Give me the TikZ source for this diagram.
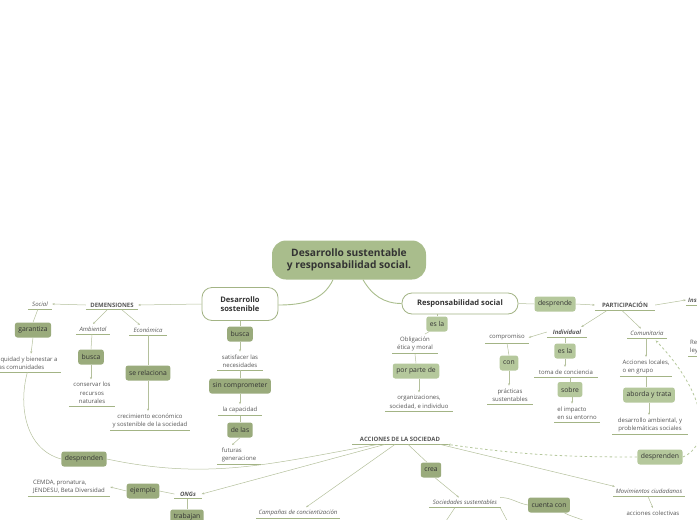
\documentclass[tikz,border=0pt]{standalone}
\usepackage{fontspec}
\setmainfont{Open Sans}
\usetikzlibrary{arrows.meta}
\definecolor{gdark}{HTML}{9AAB7C}
\definecolor{glight}{HTML}{B5C89C}
\definecolor{gmid}{HTML}{A9BD8C}
\definecolor{gline}{HTML}{A3B485}
\definecolor{cline}{HTML}{B4C09C}
\definecolor{txt}{HTML}{333333}
\definecolor{ltxt}{HTML}{555555}
\tikzset{
  gbox/.style={rounded corners=2.5pt, fill=gdark, text=txt, font=\fontsize{6.8}{8}\selectfont, inner xsep=3.5pt, minimum height=15pt},
  lbox/.style={gbox, fill=glight},
  obox/.style={rounded corners=10pt, draw=gline, line width=0.8pt, fill=white, text=txt, font=\bfseries\fontsize{7.6}{9.5}\selectfont, align=center},
  tx/.style={text=ltxt, font=\fontsize{6}{8.5}\selectfont, align=center, inner xsep=2pt, inner ysep=2.5pt},
  ul/.style={append after command={(\tikzlastnode.south west) edge[uline] (\tikzlastnode.south east)}},
  uline/.style={draw=gline, line width=1pt},
  conn/.style={draw=cline, line width=0.5pt},
  arr/.style={conn, -{Stealth[length=2.5pt,width=2pt]}},
  dconn/.style={draw=glight, line width=0.8pt, dash pattern=on 2.5pt off 2.5pt, -{Stealth[length=3pt,width=2.5pt]}},
  thick conn/.style={draw=gmid, line width=0.9pt},
  it/.style={font=\itshape\fontsize{6}{8.5}\selectfont},
  bf/.style={font=\bfseries\fontsize{6}{8.5}\selectfont},
  bi/.style={font=\bfseries\itshape\fontsize{6}{8.5}\selectfont},
}
\begin{document}
\begin{tikzpicture}[x=1pt,y=-1pt]
\useasboundingbox (0,0) rectangle (697,520);
% main nodes
\node[rounded corners=14pt, fill=gmid, text=txt, font=\bfseries\fontsize{10.2}{12.5}\selectfont, align=center, minimum width=154pt, minimum height=39pt] (root) at (349,260) {Desarrollo sustentable\\y responsabilidad social.};
\node[obox, minimum width=76pt, minimum height=33pt] (ds) at (240,304) {Desarrollo\\sostenible};
\node[obox, minimum width=116pt, minimum height=21pt] (rs) at (460,303.5) {Responsabilidad social};
\draw[thick conn] ([xshift=-16pt]root.south) to[out=-115,in=0] ([yshift=-1pt]ds.east);
\draw[thick conn] ([xshift=14pt]root.south) to[out=-60,in=180] (rs.west);

% DIMENSIONES branch
\node[tx, ul, bf, minimum width=52pt] (dim) at (112,305) {DEMENSIONES};
\node[tx, ul, it, minimum width=24pt] (social) at (40,304) {Social};
\node[gbox] (gar) at (33,330) {garantiza};
\node[tx, ul, align=left, anchor=west, inner xsep=3pt] (eq) at (-6,363) {Equidad y bienestar a\\las comunidades};
\node[tx, ul, it, minimum width=34pt] (amb) at (93,329) {Ambiental};
\node[tx, ul, it, minimum width=37pt] (eco) at (148,330) {Económica};
\node[gbox] (busca1) at (91,357) {busca};
\node[tx, ul, minimum width=46pt] (cons) at (92,393) {conservar los\\recursos\\naturales};
\node[gbox] (serel) at (148,373) {se relaciona};
\node[tx, ul, minimum width=79pt] (crec) at (150,421) {crecimiento económico\\y sostenible de la sociedad};
\node[gbox] (desprL) at (84,459) {desprenden};

\draw[arr] (ds.west) -- (dim.east);
\draw[arr] (dim.west) -- (social.east);
\draw[conn] ([xshift=-2pt]social.south) -- (gar.north);
\draw[arr] (gar.south) -- ([xshift=-2pt]gar.south |- eq.north);
\draw[arr] ([xshift=-5pt]dim.south) -- (amb.north);
\draw[arr] ([xshift=10pt]dim.south) -- ([xshift=-8pt]eco.north);
\draw[conn] ([xshift=-1pt]amb.south) -- (busca1.north);
\draw[arr] (busca1.south) -- (busca1.south |- cons.north);
\draw[conn] (eco.south) -- (serel.north);
\draw[arr] (serel.south) -- (serel.south |- crec.north);

% desarrollo sostenible chain
\node[gbox] (busca2) at (240,334) {busca};
\node[tx, ul, minimum width=45pt] (satis) at (240,361) {satisfacer las\\necesidades};
\node[gbox] (sincomp) at (240,386) {sin comprometer};
\node[tx, ul, minimum width=44pt] (capac) at (240,410) {la capacidad};
\node[gbox] (delas) at (240,430) {de las};
\node[tx, ul, align=left, minimum width=44pt] (fut) at (239,455) {futuras\\generacione};
\draw[conn] (ds.south) -- (busca2.north);
\draw[arr] (busca2.south) -- (satis.north);
\draw[conn] (satis.south) -- (sincomp.north);
\draw[arr] (sincomp.south) -- (capac.north);
\draw[conn] (capac.south) -- (delas.north);
\draw[arr] (delas.south) -- ([xshift=-8pt]delas.south |- fut.north);

% ACCIONES
\node[tx, ul, bf, minimum width=95pt] (acc) at (400,439.5) {ACCIONES DE LA SOCIEDAD};
\node[tx, ul, bi, minimum width=27pt] (ongs) at (188,494) {ONGs};
\node[gbox] (ejemplo) at (143,491) {ejemplo};
\node[tx, ul, align=left, minimum width=82pt] (cemda) at (69,487) {CEMDA, pronatura,\\JENDESU, Beta Diversidad};
\node[gbox] (trab) at (187,517) {trabajan};
\node[tx, ul, it, minimum width=82pt] (camp) at (298,513) {Campañas de concientización};
\node[gbox] (crea) at (431,470) {crea};
\node[tx, ul, it, minimum width=72pt] (socs) at (465,502.5) {Sociedades sustentables};
\node[gbox] (cuenta) at (549,505) {cuenta con};
\node[tx, ul, it, minimum width=72pt] (mov) at (649,491.5) {Movimientos ciudadanos};
\node[tx] (acol) at (653,513) {acciones colectivas};
\coordinate (off1) at (440,530);
\coordinate (off2) at (512,530);
\coordinate (off3) at (592,530);

\draw[conn] (eq.south) to[out=-105,in=165] (desprL.west);
\draw[conn] (desprL.east) to[out=-12,in=190] ([xshift=-22pt]acc.south);
\draw[arr] ([xshift=-15pt]acc.south) -- (ongs.east);
\draw[conn] (ongs.west) -- (ejemplo.east);
\draw[arr] (ejemplo.west) -- (cemda.east);
\draw[conn] ([xshift=-1pt]ongs.south) -- (trab.north);
\draw[arr] ([xshift=-5pt]acc.south) -- ([xshift=8pt]camp.north);
\draw[conn] ([xshift=8pt]acc.south) -- ([xshift=-4pt]crea.north);
\draw[arr] ([xshift=4pt]crea.south) -- ([xshift=-6pt]socs.north);
\draw[arr] ([xshift=40pt]acc.south) -- ([xshift=2pt]mov.north west);
\draw[arr] ([xshift=-1pt]mov.south) -- (acol.north);
\draw[conn] ([xshift=-1pt]socs.north east) to[out=0,in=170] (cuenta.west);
\draw[conn] ([xshift=-10pt]socs.south) -- (off1);
\draw[conn] ([xshift=-1pt]socs.south east) -- (off2);
\draw[conn] ([xshift=-6pt]cuenta.south east) to[out=-30,in=110] (off3);

% Responsabilidad social branch
\node[lbox] (esla1) at (437,324) {es la};
\node[tx, ul, minimum width=45pt] (oblig) at (415,344) {Obligación\\ética y moral};
\node[lbox] (porp) at (416,371) {por parte de};
\node[tx, ul, minimum width=67pt] (org) at (419,402) {organizaciones,\\sociedad, e individuo};
\draw[conn] ([xshift=-23pt]rs.south) -- (esla1.north);
\draw[conn] ([xshift=-8pt]esla1.south) -- ([xshift=10pt]oblig.north);
\draw[conn] (oblig.south) -- (porp.north);
\draw[arr] ([xshift=3pt]porp.south) -- ([xshift=3pt]porp.south |- org.north);

\node[lbox] (desp) at (555,304) {desprende};
\node[tx, ul, bf, minimum width=60pt] (part) at (625,305) {PARTICIPACIÓN};
\node[tx, ul, anchor=west, bi] (inst) at (686,300) {Institucional};
\node[tx, ul, anchor=west, align=left] (resp) at (688,347) {Respeto a las\\leyes};
\draw[conn] (rs.east) -- (desp.west);
\draw[arr] (desp.east) -- (part.west);
\draw[arr] (part.east) -- (inst.west);

\node[tx, ul, bi, minimum width=40pt] (indiv) at (567,332) {Individual};
\node[tx, ul, it, minimum width=39pt] (comu) at (647,333.5) {Comunitaria};
\draw[arr] ([xshift=-18pt]part.south) -- ([xshift=-6pt]indiv.north east);
\draw[arr] ([xshift=-3pt]part.south) -- ([xshift=-6pt]comu.north);

\node[tx, ul, minimum width=43pt] (compr) at (507,337.5) {compromiso};
\node[lbox] (con) at (509,363) {con};
\node[tx, ul, minimum width=45pt] (pract) at (510,395) {prácticas\\sustentables};
\draw[arr] (indiv.west) -- (compr.east);
\draw[conn] (compr.south) -- (con.north);
\draw[arr] (con.south) -- (con.south |- pract.north);

\node[lbox] (esla2) at (565,351) {es la};
\node[tx, ul, minimum width=63pt] (toma) at (566,372) {toma de conciencia};
\node[lbox] (sobre) at (570,389.5) {sobre};
\node[tx, ul, align=left, minimum width=45pt] (impac) at (577,413) {el impacto\\en su entorno};
\draw[conn] ([xshift=-2pt]indiv.south) -- (esla2.north);
\draw[arr] (esla2.south) -- (esla2.south |- toma.north);
\draw[conn] ([xshift=4pt]toma.south) -- (sobre.north);
\draw[arr] ([xshift=2pt]sobre.south) -- ([xshift=2pt]sobre.south |- impac.north);

\node[tx, ul, align=left, minimum width=52pt] (accl) at (646,367) {Acciones locales,\\o en grupo};
\node[lbox] (aborda) at (649,395) {aborda y trata};
\node[tx, ul, minimum width=75pt] (desamb) at (650,425) {desarrollo ambiental, y\\problemáticas sociales};
\node[lbox] (desprR) at (660,457) {desprenden};
\draw[arr] ([xshift=-1pt]comu.south) -- ([xshift=-1pt]comu.south |- accl.north);
\draw[conn] (accl.south) -- ([xshift=-3pt]aborda.north);
\draw[arr] (aborda.south) -- (aborda.south |- desamb.north);

\draw[dconn] (desprR.west) to[out=180,in=-8] (acc.south east);
\draw[dconn] (desprR.east) .. controls (712,445) and (708,395) .. ([xshift=-11pt,yshift=-2pt]comu.south east);
\end{tikzpicture}
\end{document}
